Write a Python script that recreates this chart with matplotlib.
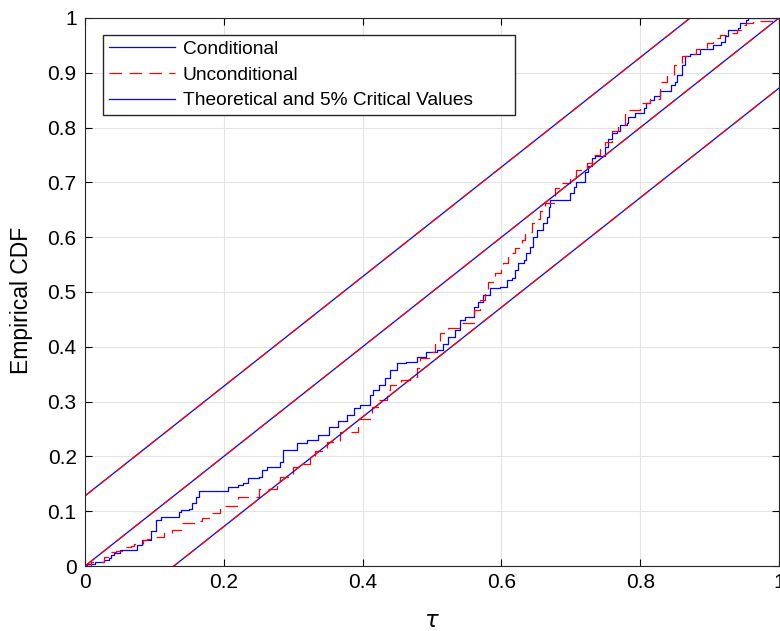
import numpy as np
import matplotlib.pyplot as plt

plt.rcParams['font.family'] = ['Liberation Sans', 'DejaVu Sans']

# conditional empirical CDF (step corners)
cond_x = [0.0, 0.003, 0.014, 0.027, 0.035, 0.037, 0.042, 0.05, 0.07, 0.075, 0.082, 0.092, 0.095,
          0.102, 0.109, 0.118, 0.135, 0.138, 0.15, 0.154, 0.16, 0.164, 0.183, 0.206, 0.22, 0.228,
          0.235, 0.25, 0.255, 0.262, 0.281, 0.286, 0.305, 0.32, 0.336, 0.351, 0.365, 0.378, 0.387,
          0.396, 0.41, 0.415, 0.423, 0.432, 0.44, 0.449, 0.463, 0.478, 0.492, 0.507, 0.516, 0.523,
          0.533, 0.54, 0.548, 0.56, 0.567, 0.574, 0.584, 0.598, 0.608, 0.615, 0.62, 0.624, 0.632,
          0.636, 0.641, 0.646, 0.651, 0.66, 0.665, 0.668, 0.67, 0.689, 0.699, 0.704, 0.708, 0.72,
          0.725, 0.73, 0.735, 0.749, 0.754, 0.759, 0.766, 0.771, 0.781, 0.783, 0.793, 0.805, 0.809,
          0.814, 0.82, 0.829, 0.845, 0.85, 0.853, 0.86, 0.865, 0.872, 0.886, 0.905, 0.917, 0.922,
          0.927, 0.941, 0.944, 0.953, 0.956, 1.0]
cond_y = [0.0, 0.004, 0.008, 0.011, 0.015, 0.02, 0.024, 0.03, 0.03, 0.038, 0.047, 0.047, 0.063,
          0.084, 0.089, 0.09, 0.099, 0.102, 0.104, 0.115, 0.126, 0.136, 0.136, 0.144, 0.148, 0.151,
          0.16, 0.163, 0.175, 0.18, 0.19, 0.212, 0.224, 0.23, 0.239, 0.254, 0.265, 0.276, 0.288,
          0.294, 0.312, 0.322, 0.33, 0.343, 0.357, 0.37, 0.373, 0.382, 0.391, 0.394, 0.406, 0.418,
          0.431, 0.449, 0.455, 0.473, 0.482, 0.495, 0.507, 0.51, 0.522, 0.525, 0.54, 0.552, 0.558,
          0.571, 0.583, 0.601, 0.613, 0.625, 0.637, 0.656, 0.668, 0.668, 0.68, 0.692, 0.701, 0.719,
          0.729, 0.744, 0.748, 0.765, 0.78, 0.79, 0.793, 0.805, 0.808, 0.82, 0.826, 0.835, 0.845,
          0.85, 0.858, 0.867, 0.878, 0.884, 0.896, 0.914, 0.93, 0.935, 0.944, 0.95, 0.956, 0.968,
          0.978, 0.981, 0.99, 0.996, 1.0, 1.0]

# unconditional empirical CDF
unc_x = [0.0, 0.008, 0.027, 0.035, 0.037, 0.044, 0.054, 0.066, 0.071, 0.083, 0.09, 0.097, 0.114,
         0.126, 0.138, 0.157, 0.169, 0.183, 0.195, 0.22, 0.25, 0.276, 0.281, 0.3, 0.31, 0.324,
         0.331, 0.348, 0.367, 0.394, 0.413, 0.423, 0.435, 0.44, 0.456, 0.468, 0.478, 0.483, 0.495,
         0.504, 0.512, 0.523, 0.54, 0.56, 0.569, 0.576, 0.581, 0.591, 0.6, 0.603, 0.61, 0.62,
         0.629, 0.634, 0.644, 0.651, 0.656, 0.663, 0.677, 0.684, 0.699, 0.708, 0.723, 0.73, 0.742,
         0.749, 0.759, 0.768, 0.778, 0.783, 0.8, 0.814, 0.829, 0.838, 0.848, 0.86, 0.872, 0.881,
         0.896, 0.905, 0.915, 0.925, 0.939, 0.946, 0.953, 0.963, 0.995, 1.0]
unc_y = [0.0, 0.008, 0.017, 0.02, 0.026, 0.028, 0.034, 0.036, 0.041, 0.047, 0.049, 0.053, 0.061,
         0.066, 0.079, 0.082, 0.087, 0.096, 0.11, 0.126, 0.14, 0.157, 0.163, 0.181, 0.187, 0.2,
         0.209, 0.227, 0.245, 0.269, 0.29, 0.303, 0.321, 0.33, 0.339, 0.345, 0.361, 0.379, 0.391,
         0.406, 0.425, 0.434, 0.443, 0.467, 0.485, 0.504, 0.519, 0.534, 0.54, 0.552, 0.571, 0.58,
         0.595, 0.61, 0.625, 0.634, 0.647, 0.662, 0.689, 0.698, 0.711, 0.723, 0.735, 0.75, 0.762,
         0.774, 0.793, 0.805, 0.826, 0.832, 0.845, 0.853, 0.884, 0.896, 0.914, 0.93, 0.935, 0.944,
         0.954, 0.963, 0.969, 0.972, 0.978, 0.987, 0.99, 0.995, 1.0, 1.0]

# theoretical uniform CDF and 5% critical band
crit = 0.128
tau = [0.0, 1.0]

fig = plt.figure(figsize=(7.8, 6.31), dpi=100)
ax = fig.add_axes([0.109, 0.103, 0.8897, 0.8685])

lw = 0.9
dash = (0, (10, 6))
l1, = ax.step(cond_x, cond_y, where='post', color='b', lw=lw, label='Conditional')
l2, = ax.step(unc_x, unc_y, where='post', color='r', lw=lw, ls=dash, label='Unconditional')
for off in (-crit, 0.0, crit):
    l3, = ax.plot(tau, np.array(tau) + off, color='b', lw=lw)
for off in (-crit, 0.0, crit):
    ax.plot(tau, np.array(tau) + off, color='r', lw=lw, ls=dash)

ax.set_xlim(0, 1)
ax.set_ylim(0, 1)
ax.set_xticks(np.arange(0, 1.01, 0.2))
ax.set_yticks(np.arange(0, 1.01, 0.1))
ax.set_xticklabels(['0', '0.2', '0.4', '0.6', '0.8', '1'])
ax.set_yticklabels(['0', '0.1', '0.2', '0.3', '0.4', '0.5', '0.6', '0.7', '0.8', '0.9', '1'])
ax.tick_params(direction='in', top=True, right=True, labelsize=15, length=5, width=0.8)
ax.tick_params(axis='x', pad=5)
ax.tick_params(axis='y', pad=6)
ax.grid(True, color='#e3e3e3', lw=0.8)
ax.set_axisbelow(True)
for s in ax.spines.values():
    s.set_linewidth(0.8)
    s.set_color('#262626')

ax.set_xlabel(r'$\tau$', fontsize=16.5)
ax.xaxis.set_label_coords(0.5, -0.078)
ax.set_ylabel('Empirical CDF', fontsize=16.5)
ax.yaxis.set_label_coords(-0.075, 0.485)

ax.legend([l1, l2, l3], ['Conditional', 'Unconditional', 'Theoretical and 5% Critical Values'],
          loc='upper left', bbox_to_anchor=(0.026, 0.969 - 0.142, 0.594, 0.142), mode='expand',
          fontsize=13.8, frameon=True,
          fancybox=False, edgecolor='#262626', framealpha=1, handlelength=3.45,
          borderaxespad=0, labelspacing=0.43, handletextpad=0.4, borderpad=0.3)

fig.savefig('out.png', dpi=100)
